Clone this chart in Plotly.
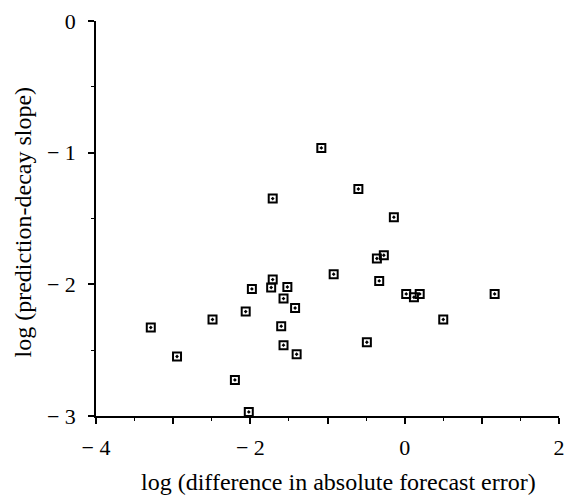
import plotly.graph_objects as go

x_vals = [-1.71, -1.98, -1.73, -1.52, -1.57, -1.42, -2.06, -2.49, -3.29, -1.60,
          -1.57, -1.40, -2.95, -2.20, -2.02,
          -1.08, -0.60, -1.71, -0.14, -0.27, -0.36, -0.92, -0.33,
          0.02, 0.12, 0.195, 1.166, 0.50, -0.49]
y_vals = [-1.964, -2.035, -2.024, -2.02, -2.108, -2.18, -2.207, -2.267, -2.328, -2.318,
          -2.462, -2.531, -2.548, -2.726, -2.969,
          -0.964, -1.276, -1.349, -1.49, -1.779, -1.804, -1.923, -1.974,
          -2.073, -2.098, -2.073, -2.073, -2.267, -2.44]

x_tickvals = [-4, -3, -2, -1, 0, 1, 2]
x_ticktext = ["\u2212 4", "", "\u2212 2", "", "0", "", "2"]
y_tickvals = [0, -1, -2, -3]
y_ticktext = ["0", "\u2212 1", "\u2212 2", "\u2212 3"]

x_title = "log (difference in absolute forecast error)"
y_title = "log (prediction-decay slope)"

font_family = "Liberation Serif"

fig = go.Figure()
fig.add_trace(go.Scatter(
    x=x_vals, y=y_vals, mode="markers",
    marker=dict(symbol="square-open-dot", size=8, color="black",
                line=dict(width=2, color="black")),
    cliponaxis=False, showlegend=False,
))

fig.update_layout(
    width=565, height=498,
    margin=dict(l=96, r=6, t=21, b=82),
    paper_bgcolor="white", plot_bgcolor="white",
    font=dict(family=font_family, color="black", size=22),
    xaxis=dict(
        range=[-4, 2], showgrid=False, zeroline=False, automargin=False,
        showline=True, linecolor="black", linewidth=1.5,
        tickvals=x_tickvals, ticktext=x_ticktext,
        ticks="outside", ticklen=6, tickwidth=1.5, tickcolor="black",
        minor=dict(dtick=0.5, ticks="outside", ticklen=3, tickwidth=1, tickcolor="black"),
        tickfont=dict(size=22),
        ticklabelstandoff=5,
    ),
    yaxis=dict(
        range=[-3, 0], showgrid=False, zeroline=False, automargin=False,
        showline=True, linecolor="black", linewidth=1.5,
        tickvals=y_tickvals, ticktext=y_ticktext,
        ticks="outside", ticklen=6, tickwidth=1.5, tickcolor="black",
        minor=dict(dtick=0.5, ticks="outside", ticklen=3, tickwidth=1, tickcolor="black"),
        tickfont=dict(size=22),
        ticklabelstandoff=8,
    ),
    annotations=[
        dict(text=x_title, xref="paper", yref="paper", x=0.523, y=0,
             xanchor="center", yanchor="middle", yshift=-66, showarrow=False,
             font=dict(size=24)),
        dict(text=y_title, xref="paper", yref="paper", x=0, y=0.49,
             xanchor="center", yanchor="middle", xshift=-73, textangle=-90,
             showarrow=False, font=dict(size=24)),
    ],
)

fig.write_html(
    "out.html",
    config={"displayModeBar": False},
    post_script="document.documentElement.style.overflow='hidden';"
                "document.body.style.margin='0';"
                "document.body.style.overflow='hidden';",
)
